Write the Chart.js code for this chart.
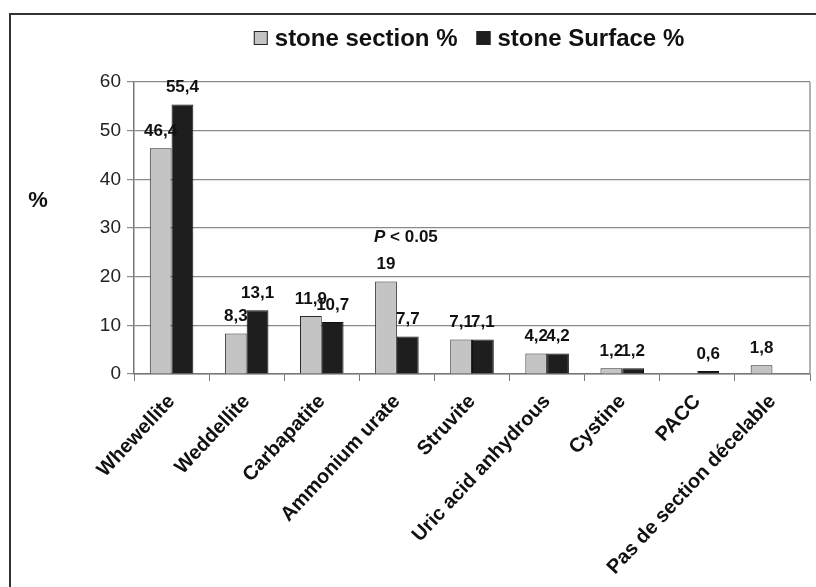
<!DOCTYPE html>
<html>
<head>
<meta charset="utf-8">
<style>
  body { margin: 0; background: #fff; overflow: hidden; }
  #wrap { position: relative; width: 816px; height: 587px; }
  #frame { position: absolute; left: 9px; top: 13px; right: 0; bottom: 0;
           border-top: 2px solid #333; border-left: 2px solid #333; }
  #my-chart { position: absolute; left: 0; top: 0; }
</style>
</head>
<body>
<div id="wrap">
  <div id="frame"></div>
  <canvas id="my-chart" width="816" height="587"></canvas>
</div>

<script src="https://cdn.jsdelivr.net/npm/chart.js"></script>

<script>
  const categories = ['Whewellite', 'Weddellite', 'Carbapatite', 'Ammonium urate', 'Struvite',
    'Uric acid anhydrous', 'Cystine', 'PACC', 'Pas de section décelable']
  const sectionPct = [46.4, 8.3, 11.9, 19, 7.1, 4.2, 1.2, null, 1.8]
  const surfacePct = [55.4, 13.1, 10.7, 7.7, 7.1, 4.2, 1.2, 0.6, null]
  const yTicks = [0, 10, 20, 30, 40, 50, 60]

  const FONT = "'Liberation Sans', Arial, sans-serif"
  const fmt = v => String(v).replace('.', ',')

  // legend, "%" label, value labels, P note, right border of plot
  const extras = {
    id: 'extras',
    afterDatasetsDraw(chart) {
      const c = chart.ctx
      const area = chart.chartArea
      c.save()
      c.strokeStyle = '#999'
      c.lineWidth = 1.5
      c.beginPath()
      c.moveTo(area.right, area.top)
      c.lineTo(area.right, area.bottom)
      c.stroke()

      c.fillStyle = '#111'
      c.font = 'bold 17px ' + FONT
      c.textAlign = 'center'
      c.textBaseline = 'middle'
      chart.data.datasets.forEach((ds, i) => {
        chart.getDatasetMeta(i).data.forEach((bar, j) => {
          const v = ds.data[j]
          if (v === null) return
          c.fillText(fmt(v), bar.x, bar.y - 17)
        })
      })

      // P < 0.05 above Ammonium urate
      const xs = chart.scales.x, ys = chart.scales.y
      const px = xs.getPixelForValue(3) + 9
      const py = ys.getPixelForValue(19) - 44
      const rest = ' < 0.05'
      c.font = 'italic bold 17px ' + FONT
      const wP = c.measureText('P').width
      c.font = 'bold 17px ' + FONT
      const wR = c.measureText(rest).width
      let sx = px - (wP + wR) / 2
      c.textAlign = 'left'
      c.font = 'italic bold 17px ' + FONT
      c.fillText('P', sx, py)
      c.font = 'bold 17px ' + FONT
      c.fillText(rest, sx + wP, py)

      // % label
      c.font = 'bold 22px ' + FONT
      c.textAlign = 'center'
      c.fillText('%', 38, 201)

      // legend
      const items = [
        { text: 'stone section %', fill: '#c4c4c4' },
        { text: 'stone Surface %', fill: '#1e1e1e' }
      ]
      c.font = 'bold 24px ' + FONT
      const box = 14, gap = 7, sep = 19
      let total = 0
      items.forEach(it => { it.w = c.measureText(it.text).width; total += box + gap + it.w })
      total += sep
      let x = 469 - total / 2
      const ly = 38
      c.textAlign = 'left'
      items.forEach(it => {
        c.fillStyle = it.fill
        c.fillRect(x, ly - box / 2, box, box)
        c.strokeStyle = '#222'
        c.lineWidth = 1
        c.strokeRect(x + 0.5, ly - box / 2 + 0.5, box - 1, box - 1)
        c.fillStyle = '#111'
        c.fillText(it.text, x + box + gap, ly + 1)
        x += box + gap + it.w + sep
      })
      c.restore()
    }
  }

  let ctx = document.getElementById('my-chart').getContext('2d');
  const chart = new Chart(ctx, {
    type: 'bar',
    data: {
      labels: categories,
      datasets: [{
        label: 'stone section %',
        data: sectionPct,
        backgroundColor: '#c4c4c4',
        borderColor: '#2a2a2a',
        borderWidth: 1,
      },
      {
        label: 'stone Surface %',
        data: surfacePct,
        backgroundColor: '#1e1e1e',
        borderColor: '#111',
        borderWidth: 1,
      }]
    },
    options: {
      responsive: false,
      animation: false,
      devicePixelRatio: 1,
      layout: { padding: { top: 82, right: 6, left: 0, bottom: 0 } },
      plugins: {
        legend: { display: false },
        tooltip: { enabled: false }
      },
      datasets: {
        bar: { categoryPercentage: 0.58, barPercentage: 1 }
      },
      scales: {
        x: {
          afterFit: s => { s.height = 587 - 374 },
          grid: { offset: true, drawOnChartArea: false, tickLength: 7, color: '#777' },
          border: { color: '#777', width: 1.5 },
          ticks: {
            minRotation: 47, maxRotation: 47,
            color: '#111', padding: 9,
            font: { family: FONT, size: 20, weight: 'bold' }
          }
        },
        y: {
          min: 0, max: 60,
          afterFit: s => { s.width = 134 },
          afterBuildTicks: s => { s.ticks = yTicks.map(v => ({ value: v })) },
          grid: { color: '#8a8a8a', tickLength: 7, lineWidth: 1.2 },
          border: { color: '#777', width: 1.5 },
          ticks: {
            color: '#222', padding: 6,
            font: { family: FONT, size: 19 }
          }
        }
      }
    },
    plugins: [extras]
  });
</script>
</body>
</html>
